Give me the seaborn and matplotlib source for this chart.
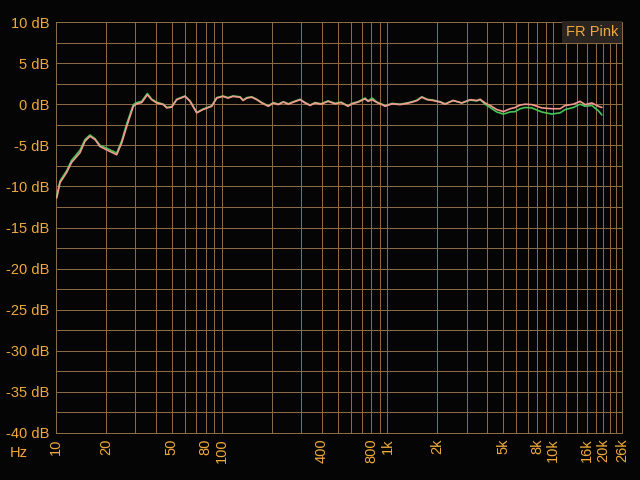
import numpy as np
import pandas as pd
import matplotlib
matplotlib.use("Agg")
import matplotlib.pyplot as plt
import seaborn as sns

# frequency points (Hz)
freq = [10.1, 10.57, 11.6, 12.4, 13.96, 14.96, 16.04, 17.2, 18.43, 20.2,
        23.24, 24.92, 26.71, 29.28, 30.69, 32.9, 35.56, 37.8, 40.52, 44.42,
        46.56, 49.92, 53.5, 60.03, 64.37, 70.65, 77.1, 87.0, 93.3, 101.8,
        109.1, 117, 129, 134.5, 141.6, 151.7, 162.7, 174.4, 191.1, 204.8,
        219.6, 235.4, 252.3, 270.5, 296.9, 318.3, 341.2, 365.7, 397.5, 438,
        483, 525, 578, 611, 665, 732, 764, 807, 865, 928,
        967, 1066, 1191, 1313, 1408, 1509, 1611, 1734, 1885, 2078,
        2227, 2489, 2808, 3151, 3459, 3623, 3882, 4161, 4566, 5006,
        5495, 5890, 6314, 6768, 7429, 8536, 9808, 11010, 11800, 13240,
        14530, 15580, 17100, 18740, 19650]

pink_db = [-11.4, -9.55, -8.3, -7.1, -5.9, -4.5, -3.9, -4.3, -5.15, -5.55,
           -6.15, -4.7, -2.7, -0.25, 0.05, 0.2, 1.15, 0.55, 0.15, -0.05,
           -0.45, -0.35, 0.55, 0.95, 0.35, -1.05, -0.65, -0.25, 0.75, 0.95,
           0.75, 0.95, 0.85, 0.45, 0.75, 0.85, 0.55, 0.15, -0.25, 0.15,
           -0.05, 0.25, 0.0, 0.25, 0.55, 0.15, -0.15, 0.15, 0.0, 0.35,
           0.05, 0.2, -0.25, 0.05, 0.25, 0.65, 0.35, 0.55, 0.2, -0.05,
           -0.25, 0.05, -0.05, 0.1, 0.25, 0.45, 0.85, 0.55, 0.45, 0.25,
           0.0, 0.45, 0.15, 0.55, 0.45, 0.6, 0.15, -0.15, -0.65, -0.9,
           -0.55, -0.4, -0.1, 0.0, -0.05, -0.45, -0.55, -0.55, -0.15, 0.0,
           0.35, -0.05, 0.15, -0.25, -0.4]

green_db = [-11.25, -9.35, -8.1, -6.85, -5.6, -4.3, -3.75, -4.2, -5.0, -5.35,
            -5.95, -4.45, -2.4, -0.05, 0.2, 0.35, 1.3, 0.6, 0.25, 0.0,
            -0.4, -0.3, 0.6, 1.0, 0.4, -1.0, -0.6, -0.2, 0.8, 1.0,
            0.8, 1.0, 0.9, 0.5, 0.8, 0.9, 0.6, 0.2, -0.2, 0.2,
            0.0, 0.3, 0.05, 0.3, 0.6, 0.2, -0.1, 0.2, 0.05, 0.4,
            0.1, 0.25, -0.2, 0.1, 0.3, 0.75, 0.4, 0.75, 0.25, 0.0,
            -0.2, 0.1, 0.0, 0.15, 0.3, 0.5, 0.9, 0.6, 0.5, 0.3,
            0.05, 0.45, 0.15, 0.5, 0.4, 0.55, 0.0, -0.4, -0.95, -1.2,
            -0.95, -0.9, -0.55, -0.4, -0.45, -0.95, -1.2, -1.05, -0.65, -0.4,
            0.0, -0.25, -0.15, -0.8, -1.3]

x_ticks = [10, 20, 50, 80, 100, 400, 800, 1000, 2000, 5000, 8000, 10000, 16000, 20000, 26000]
x_labels = ["10", "20", "50", "80", "100", "400", "800", "1k", "2k", "5k", "8k", "10k", "16k", "20k", "26k"]
x_minor = [30, 40, 60, 70, 90, 200, 300, 500, 600, 700, 900, 3000, 4000, 6000, 7000, 9000,
           12000, 14000, 18000, 22000, 24000]
y_ticks = [10, 5, 0, -5, -10, -15, -20, -25, -30, -35, -40]

bg = "#050505"
grid_c = "#8c6a45"
text_c = "#f0aa3c"

sns.set_style("dark", {"axes.facecolor": bg, "figure.facecolor": bg})
plt.rcParams['font.family'] = ['Liberation Sans', 'DejaVu Sans']

df = pd.DataFrame({
    "freq": freq * 2,
    "db": green_db + pink_db,
    "series": ["green"] * len(freq) + ["pink"] * len(freq),
})

fig = plt.figure(figsize=(6.4, 4.8), dpi=100)
ax = fig.add_axes([56 / 640, 1 - 433 / 480, 566 / 640, 411 / 480])
ax.set_facecolor(bg)

ax.set_xscale("log")
ax.set_xlim(10, 26000)
ax.set_ylim(-40, 10)

# grid
for f in x_ticks + x_minor:
    ax.axvline(f, color=grid_c, lw=0.72, zorder=1)
for v in np.arange(-40, 10.1, 2.5):
    ax.axhline(v, color=grid_c, lw=0.72, zorder=1)

sns.lineplot(data=df, x="freq", y="db", hue="series", hue_order=["green", "pink"],
             palette={"green": "#46c458", "pink": "#f39a8e"}, linewidth=1.2,
             legend=False, ax=ax, zorder=3, sort=False)

ax.set_xticks(x_ticks)
ax.set_xticklabels(x_labels, rotation=90)
ax.xaxis.set_minor_locator(matplotlib.ticker.NullLocator())
ax.set_yticks(y_ticks)
ax.set_yticklabels([f"{v} dB" for v in y_ticks])
ax.tick_params(axis="both", length=0, colors=text_c, labelsize=10.5)
ax.tick_params(axis="x", pad=4)
ax.tick_params(axis="y", pad=5)
ax.set_xlabel("")
ax.set_ylabel("")
ax.grid(False)
for s in ax.spines.values():
    s.set_color(grid_c)
    s.set_linewidth(0.72)

fig.text(10 / 640, 1 - 453 / 480, "Hz", color=text_c, fontsize=10.5, va="center", ha="left")
ax.text(0.993, 0.993, "FR Pink", transform=ax.transAxes, ha="right", va="top",
        color=text_c, fontsize=10.5, zorder=5,
        bbox=dict(facecolor="#2a2520", edgecolor="none", boxstyle="square,pad=0.25"))

fig.savefig("out.png", dpi=100, facecolor=bg)
